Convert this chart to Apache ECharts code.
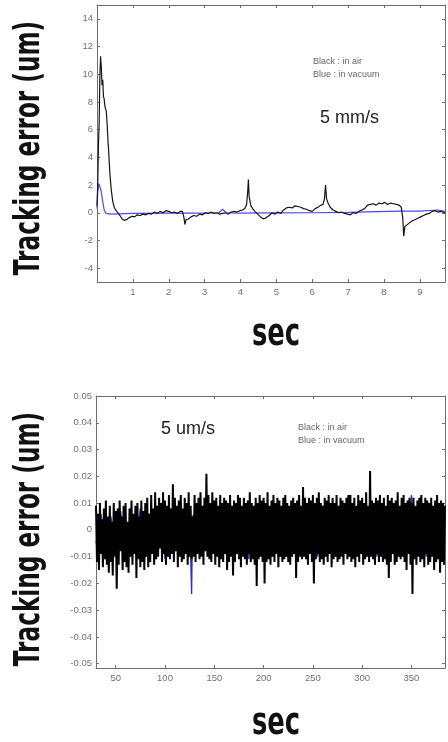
<!DOCTYPE html>
<html><head><meta charset="utf-8">
<script src="https://cdn.jsdelivr.net/npm/echarts@6/dist/echarts.min.js"></script>
<style>html,body{margin:0;padding:0;background:#fff}#c{width:448px;height:742px}</style>
</head><body><div id="c"></div>
<script>
// ---------- Top chart (5 mm/s) ----------
const topAirTime = [0.00,0.02,0.04,0.06,0.08,0.10,0.12,0.14,0.16,0.18,0.20,0.22,0.24,0.26,0.28,0.30,0.33,0.36,0.40,0.44,0.48,0.52,0.58,0.64,0.70,0.76,0.82,0.90,0.98,1.05,1.12,1.20,1.28,1.36,1.44,1.52,1.60,1.68,1.76,1.84,1.92,2.00,2.08,2.16,2.24,2.32,2.38,2.42,2.45,2.48,2.55,2.62,2.70,2.78,2.86,2.94,3.02,3.10,3.18,3.26,3.34,3.42,3.50,3.58,3.66,3.74,3.82,3.90,3.98,4.06,4.12,4.17,4.20,4.22,4.24,4.26,4.29,4.34,4.40,4.48,4.56,4.64,4.72,4.80,4.88,4.96,5.04,5.12,5.20,5.28,5.36,5.44,5.52,5.60,5.68,5.76,5.84,5.92,6.00,6.08,6.16,6.24,6.30,6.34,6.37,6.40,6.44,6.50,6.58,6.66,6.74,6.82,6.90,6.98,7.06,7.14,7.22,7.30,7.38,7.46,7.54,7.62,7.70,7.78,7.86,7.94,8.02,8.10,8.18,8.26,8.34,8.42,8.48,8.52,8.55,8.58,8.62,8.70,8.78,8.86,8.94,9.02,9.10,9.18,9.26,9.34,9.42,9.50,9.58,9.70];
const topAirError = [0.5,2.0,4.8,6.5,9.8,11.3,10.5,9.2,9.6,8.4,8.2,7.7,7.8,7.3,6.5,5.5,4.2,2.8,1.6,0.8,0.4,0.2,0.0,-0.2,-0.45,-0.55,-0.5,-0.35,-0.25,-0.3,-0.15,-0.2,-0.1,-0.15,-0.05,-0.1,0.05,-0.05,0.1,0.0,0.15,0.1,0.0,0.05,-0.05,0.1,0.1,-0.3,-0.85,-0.5,-0.45,-0.3,-0.2,-0.25,-0.1,-0.15,0.0,-0.05,0.05,-0.05,0.0,-0.1,-0.05,0.0,-0.1,0.05,0.1,0.05,0.15,0.2,0.3,0.6,1.5,2.4,1.2,0.9,0.5,0.3,0.1,-0.1,-0.3,-0.45,-0.35,-0.2,0.0,-0.1,0.05,-0.05,0.2,0.35,0.4,0.35,0.5,0.45,0.4,0.3,0.25,0.15,0.1,0.3,0.4,0.55,0.6,1.0,2.0,1.0,0.7,0.4,0.2,0.1,0.0,0.05,-0.05,-0.1,-0.15,0.0,-0.05,0.1,0.2,0.3,0.55,0.6,0.65,0.55,0.7,0.65,0.75,0.6,0.7,0.65,0.6,0.55,0.4,-0.3,-1.7,-1.0,-0.9,-0.75,-0.6,-0.5,-0.4,-0.3,-0.2,-0.1,-0.05,0.1,0.15,0.05,0.1,0.0];
const topVacTime = [0,0.02,0.05,0.08,0.12,0.16,0.2,0.25,0.3,0.4,0.6,1.0,2.0,3.0,3.4,3.5,3.6,4.0,5.0,6.0,7.0,7.8,8.5,9.0,9.5,9.7];
const topVacError = [0.3,1.5,2.1,1.9,1.5,0.8,0.2,-0.05,-0.1,-0.1,-0.08,-0.05,-0.03,-0.02,0.0,0.25,0.0,-0.02,-0.01,0.0,0.03,0.08,0.12,0.12,0.2,0.1];
const topXTicks = [1,2,3,4,5,6,7,8,9];
const topYTicks = [-4,-2,0,2,4,6,8,10,12,14];

// ---------- Bottom chart (5 um/s) ----------
const bottomAirStart = 30, bottomAirStep = 1;   // sample times in sec
const bottomAirError = [
.009,-.012,.006,-.015,.010,-.009,.004,-.014,.008,-.011,
.011,-.013,.005,-.016,.009,-.012,.003,-.017,.010,-.010,
.007,-.022,.008,-.013,.011,-.008,.005,-.015,.009,-.012,
.010,-.014,.003,-.016,.008,-.010,.011,-.013,.006,-.009,
.009,-.018,.010,-.011,.005,-.014,.011,-.012,.007,-.015,
.010,-.010,.012,-.014,.006,-.012,.013,-.009,.008,-.013,
.014,-.011,.009,-.010,.012,-.007,.010,-.012,.014,-.009,
.011,-.013,.009,-.010,.013,-.011,.008,-.009,.017,-.012,
.012,-.008,.009,-.014,.011,-.010,.013,-.012,.008,-.011,
.012,-.009,.010,-.013,.014,-.010,.009,-.011,.005,-.010,
.013,-.012,.010,-.009,.012,-.011,.014,-.010,.009,-.013,
.012,-.008,.021,-.010,.013,-.011,.010,-.012,.014,-.009,
.011,-.013,.012,-.010,.009,-.014,.013,-.011,.010,-.012,
.012,-.009,.011,-.015,.010,-.012,.013,-.010,.009,-.017,
.011,-.012,.010,-.009,.013,-.011,.012,-.014,.009,-.010,
.012,-.011,.010,-.013,.011,-.009,.014,-.012,.010,-.011,
.009,-.013,.012,-.021,.010,-.011,.013,-.010,.011,-.012,
.012,-.020,.010,-.012,.014,-.011,.009,-.013,.011,-.010,
.013,-.012,.010,-.009,.012,-.014,.011,-.010,.009,-.012,
.012,-.011,.013,-.010,.010,-.012,.009,-.013,.011,-.010,
.012,-.009,.010,-.018,.011,-.012,.013,-.010,.009,-.011,
.016,-.010,.012,-.011,.010,-.013,.012,-.009,.011,-.012,
.013,-.020,.010,-.011,.012,-.009,.014,-.012,.010,-.011,
.009,-.013,.012,-.010,.011,-.012,.013,-.009,.010,-.014,
.012,-.011,.010,-.010,.013,-.012,.009,-.011,.012,-.010,
.011,-.013,.010,-.009,.012,-.011,.013,-.010,.013,-.012,
.010,-.011,.012,-.014,.009,-.010,.013,-.012,.011,-.009,
.012,-.013,.010,-.011,.014,-.010,.009,-.012,.022,-.010,
.011,-.011,.010,-.013,.012,-.009,.011,-.012,.013,-.010,
.010,-.012,.012,-.011,.009,-.013,.013,-.018,.011,-.012,
.012,-.009,.010,-.013,.011,-.012,.014,-.010,.009,-.011,
.012,-.010,.013,-.012,.010,-.015,.011,-.009,.012,-.013,
.010,-.024,.012,-.011,.009,-.013,.011,-.010,.012,-.012,
.013,-.011,.010,-.014,.012,-.009,.011,-.013,.010,-.012,
.012,-.010,.009,-.015,.011,-.012,.013,-.011,.010,-.016,
.011,-.012,.010,-.013,.009];
const bottomVacTime = [30,35,40,45,50,55,60,65,70,75,80,85,90,95,100,105,110,115,120,125,126,127,128,130,135,140,145,150,155,160,165,170,175,180,185,190,195,200,205,210,215,220,225,230,235,240,245,250,255,260,265,270,275,280,285,290,295,300,305,310,315,320,325,330,335,340,345,350,355,360,365,370,375,380];
const bottomVacError = [
-.005,.006,-.008,.005,-.007,.007,-.009,.004,-.006,.008,
-.010,.006,-.007,.009,-.011,.007,-.008,.010,-.009,.006,-.010,-.024,.005,
.006,-.008,.009,-.010,.008,-.007,.010,-.009,.007,-.008,
.009,-.011,.008,-.009,.011,-.008,.007,-.010,.009,-.007,
.008,-.009,.010,-.008,.007,-.010,.009,-.007,.008,-.009,
.007,-.008,.010,-.009,.008,-.007,.009,-.010,.007,-.008,
.009,-.009,.008,-.007,.013,-.009,.008,-.010,.007,-.008,
.009];
const bottomXTicks = [50,100,150,200,250,300,350];
const bottomYTicks = [-0.05,-0.04,-0.03,-0.02,-0.01,0,0.01,0.02,0.03,0.04,0.05];

// ---------- build ----------
const zip = (xs, ys) => xs.map((x, i) => [x, ys[i]]);
const sampled = (start, step, ys) => ys.map((y, i) => [start + i * step, y]);

const AX = '#6e6e6e', LBL = '#707070';
const labelFont = {color: LBL, fontSize: 9.5, fontFamily: 'Liberation Sans, Arial, sans-serif'};
function xAxes(gi, min, max, ticks) {
  return [
    {type:'value', gridIndex:gi, min, max, position:'bottom',
     axisLine:{onZero:false, lineStyle:{color:AX, width:1}},
     axisTick:{inside:true, length:3, customValues:ticks, lineStyle:{color:AX}},
     axisLabel:Object.assign({customValues:ticks, margin:5}, labelFont),
     splitLine:{show:false}},
    {type:'value', gridIndex:gi, min, max, position:'top',
     axisLine:{onZero:false, lineStyle:{color:AX, width:1}},
     axisTick:{inside:true, length:3, customValues:ticks, lineStyle:{color:AX}},
     axisLabel:{show:false}, splitLine:{show:false}}
  ];
}
function yAxes(gi, min, max, ticks) {
  return [
    {type:'value', gridIndex:gi, min, max, position:'left',
     axisLine:{show:true, onZero:false, lineStyle:{color:AX, width:1}},
     axisTick:{show:true, inside:true, length:3, customValues:ticks, lineStyle:{color:AX}},
     axisLabel:Object.assign({customValues:ticks, margin:4}, labelFont),
     splitLine:{show:false}},
    {type:'value', gridIndex:gi, min, max, position:'right',
     axisLine:{show:true, onZero:false, lineStyle:{color:AX, width:1}},
     axisTick:{show:true, inside:true, length:3, customValues:ticks, lineStyle:{color:AX}},
     axisLabel:{show:false}, splitLine:{show:false}}
  ];
}

const chart = echarts.init(document.getElementById('c'), null, {renderer:'canvas'});
const titleFont = 'bold 35px "DejaVu Sans", sans-serif';
const secFont = 'bold 38px "DejaVu Sans", sans-serif';
const smallFont = '9px "Liberation Sans", Arial, sans-serif';
const speedFont = '18px "Liberation Sans", Arial, sans-serif';

chart.setOption({
  animation:false,
  backgroundColor:'#ffffff',
  grid:[
    {left:97, top:5, right:3, bottom:460, containLabel:false},
    {left:96, top:396, right:3, bottom:74, containLabel:false}
  ],
  xAxis:[...xAxes(0, 0, 9.7, topXTicks), ...xAxes(1, 30, 384, bottomXTicks)],
  yAxis:[...yAxes(0, -5, 15, topYTicks), ...yAxes(1, -0.0516, 0.05, bottomYTicks)],
  series:[
    {type:'line', xAxisIndex:0, yAxisIndex:0, data:zip(topVacTime, topVacError), showSymbol:false,
     lineStyle:{color:'#4a4af2', width:1.2}, z:2},
    {type:'line', xAxisIndex:0, yAxisIndex:0, data:zip(topAirTime, topAirError), showSymbol:false,
     lineStyle:{color:'#151515', width:1.2}, z:3},
    {type:'line', xAxisIndex:2, yAxisIndex:2, data:zip(bottomVacTime, bottomVacError), showSymbol:false,
     lineStyle:{color:'#3030c0', width:1.3}, z:2},
    {type:'line', xAxisIndex:2, yAxisIndex:2, data:sampled(bottomAirStart, bottomAirStep, bottomAirError), showSymbol:false,
     lineStyle:{color:'#000000', width:2}, z:3}
  ],
  graphic:[
    {type:'text', x:30, y:148, rotation:Math.PI/2, scaleX:0.662,
     style:{text:'Tracking error (um)', font:titleFont, fill:'#111', align:'center', verticalAlign:'middle'}},
    {type:'text', x:30, y:539, rotation:Math.PI/2, scaleX:0.662,
     style:{text:'Tracking error (um)', font:titleFont, fill:'#111', align:'center', verticalAlign:'middle'}},
    {type:'text', x:276, y:335, scaleX:0.68,
     style:{text:'sec', font:secFont, fill:'#111', align:'center', verticalAlign:'middle'}},
    {type:'text', x:276, y:724, scaleX:0.68,
     style:{text:'sec', font:secFont, fill:'#111', align:'center', verticalAlign:'middle'}},
    {type:'text', x:313, y:62, style:{text:'Black : in air', font:smallFont, fill:'#666', verticalAlign:'middle'}},
    {type:'text', x:313, y:75, style:{text:'Blue : in vacuum', font:smallFont, fill:'#666', verticalAlign:'middle'}},
    {type:'text', x:320, y:118, style:{text:'5 mm/s', font:speedFont, fill:'#222', verticalAlign:'middle'}},
    {type:'text', x:298, y:428, style:{text:'Black : in air', font:smallFont, fill:'#666', verticalAlign:'middle'}},
    {type:'text', x:298, y:441, style:{text:'Blue : in vacuum', font:smallFont, fill:'#666', verticalAlign:'middle'}},
    {type:'text', x:161, y:429, style:{text:'5 um/s', font:speedFont, fill:'#222', verticalAlign:'middle'}}
  ]
});
</script>
</body></html>
